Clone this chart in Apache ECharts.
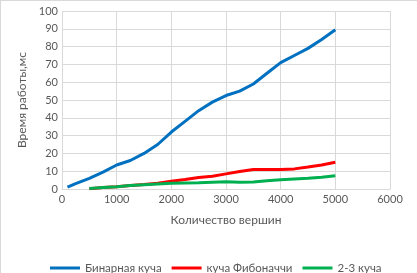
<!DOCTYPE html>
<html><head><meta charset="utf-8">
<script src="https://cdn.jsdelivr.net/npm/echarts@6/dist/echarts.min.js"></script>
<style>html,body{margin:0;padding:0;background:#fff}#c{width:417px;height:273px}</style>
</head><body><div id="c"></div>
<script>
const seriesNames = ["Бинарная куча", "куча Фибоначчи", "2-3 куча"];
const binX = [100, 250, 500, 750, 1000, 1250, 1500, 1750, 2000, 2250, 2500, 2750, 3000, 3250, 3500, 3750, 4000, 4250, 4500, 4750, 5000];
const binY = [1, 3, 6, 9.5, 13.5, 16, 20, 25, 32, 38, 44, 48.8, 52.5, 55, 59, 65, 71, 75, 79, 84, 89.5];
const fibX = [500, 750, 1000, 1250, 1500, 1750, 2000, 2250, 2500, 2750, 3000, 3250, 3500, 3750, 4000, 4250, 4500, 4750, 5000];
const fibY = [0.2, 0.8, 1.3, 1.9, 2.5, 3.2, 4.4, 5.3, 6.5, 7.2, 8.5, 9.8, 11, 11, 11, 11.3, 12.3, 13.5, 15];
const ttX = [500, 750, 1000, 1250, 1500, 1750, 2000, 2250, 2500, 2750, 3000, 3250, 3500, 3750, 4000, 4250, 4500, 4750, 5000];
const ttY = [0.3, 0.8, 1.3, 1.9, 2.4, 2.8, 3.2, 3.4, 3.5, 3.8, 4.1, 3.8, 3.9, 4.6, 5.2, 5.6, 6.0, 6.6, 7.5];
const xTitle = "Количество вершин";
const yTitle = "Время работы,мс";

const pairs = (xs, ys) => xs.map((x, i) => [x, ys[i]]);
const colors = ["#0070C0", "#FF0000", "#00B050"];
const font = "Lato, 'Liberation Sans', sans-serif";
const chart = echarts.init(document.getElementById('c'));
chart.setOption({
  animation: false,
  textStyle: {fontFamily: font},
  grid: {left: 62, right: 27, top: 11, bottom: 84},
  xAxis: {
    type: 'value', min: 0, max: 6000, interval: 1000,
    name: xTitle, nameLocation: 'middle', nameGap: 25,
    nameTextStyle: {color: '#595959', fontSize: 12, fontFamily: font},
    axisLine: {show: true, lineStyle: {color: '#d9d9d9'}},
    axisTick: {show: false},
    axisLabel: {color: '#595959', fontSize: 11, margin: 5, fontFamily: font, formatter: v => String(v)},
    splitLine: {show: true, lineStyle: {color: '#d9d9d9'}}
  },
  yAxis: {
    type: 'value', min: 0, max: 100, interval: 10,
    name: yTitle, nameLocation: 'middle', nameGap: 28, nameRotate: 90,
    nameTextStyle: {color: '#595959', fontSize: 12, fontFamily: font},
    axisLine: {show: false},
    axisTick: {show: false},
    axisLabel: {color: '#595959', fontSize: 11, margin: 4, fontFamily: font},
    splitLine: {show: true, lineStyle: {color: '#d9d9d9'}}
  },
  legend: {
    left: 45, top: 257, itemWidth: 30, itemHeight: 3, itemGap: 10, icon: 'rect',
    textStyle: {color: '#595959', fontSize: 11.5, fontFamily: font},
    data: seriesNames
  },
  graphic: [
    {type: 'line', shape: {x1: 0, y1: 0.5, x2: 417, y2: 0.5}, style: {stroke: '#d9d9d9', lineWidth: 1}},
    {type: 'line', shape: {x1: 0.5, y1: 0, x2: 0.5, y2: 273}, style: {stroke: '#d9d9d9', lineWidth: 1}}
  ],
  series: [
    {name: seriesNames[0], type: 'line', data: pairs(binX, binY), showSymbol: false, color: colors[0], lineStyle: {width: 3}},
    {name: seriesNames[1], type: 'line', data: pairs(fibX, fibY), showSymbol: false, color: colors[1], lineStyle: {width: 3}},
    {name: seriesNames[2], type: 'line', data: pairs(ttX, ttY), showSymbol: false, color: colors[2], lineStyle: {width: 3}}
  ]
});
</script></body></html>
